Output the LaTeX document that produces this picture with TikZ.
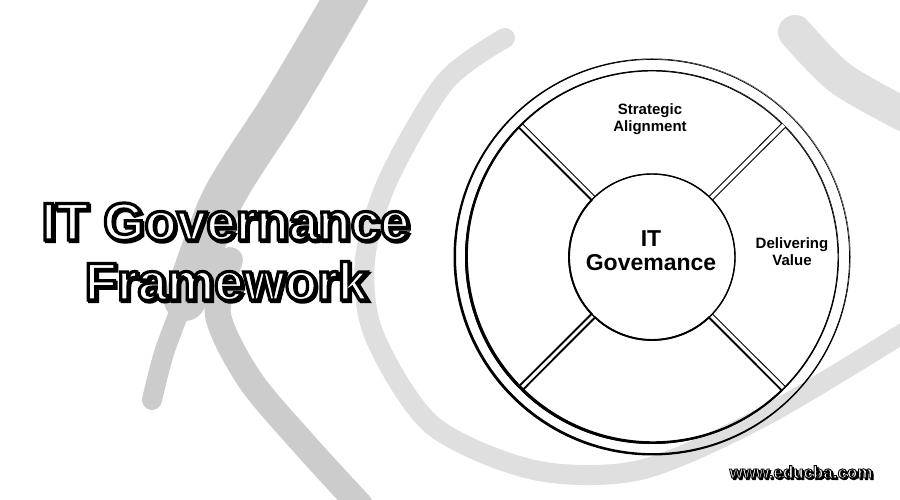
\documentclass[tikz,border=0pt]{standalone}
\usepackage{fontspec}
\setmainfont{Liberation Sans}

% white letters with a black outline and a small shadow
\newcommand{\strokedtext}[2]{\special{pdf:literal direct 2 Tr #1 w 0 G}#2\special{pdf:literal direct 0 Tr}}
\newcommand{\outlinetext}[5]{%
  \node[#3, text=black] at ([xshift=1.6, yshift=-1.6]#2) {\strokedtext{#4}{#5}};
  \node[#3, text=white] (#1) at (#2) {\strokedtext{#4}{#5}};
}

% one quarter of the ring, with a small gap to its neighbours
\newcommand{\ringpart}[3]{%
  \draw[#1] (#2+0.8:186pt) arc[start angle=#2+0.8, end angle=#3-0.8, radius=186pt]
    -- (#3-1.7:83pt) arc[start angle=#3-1.7, end angle=#2+1.7, radius=83pt] -- cycle;
}

\begin{document}
\begin{tikzpicture}[x=1pt, y=1pt,
    swoosh/.style={draw=gray!#1, line cap=round, line join=round},
    titlefont/.style={anchor=base, inner sep=0pt, font=\bfseries\fontsize{53}{60}\selectfont},
    webfont/.style={anchor=base, inner sep=0pt, font=\bfseries\fontsize{17}{20}\selectfont},
    seglabel/.style={font=\bfseries\fontsize{15}{17}\selectfont, align=center, inner sep=0pt},
    coretext/.style={font=\bfseries\fontsize{23}{24}\selectfont, align=center, inner sep=0pt},
    thinseg/.style={line width=0.9pt, line join=miter},
    thickseg/.style={line width=1.9pt, line join=miter}]
    \useasboundingbox (0,0) rectangle (900,500);

    % grey brush strokes in the background
    \draw[swoosh=40, line width=42pt] plot[smooth] coordinates {(350,510) (285,400) (222,300) (185,200)};
    \draw[swoosh=40, line width=20pt] plot[smooth] coordinates {(190,215) (165,150) (152,100)};
    \draw[swoosh=40, line width=26pt] plot[smooth] coordinates {(230,240) (218,185) (250,120) (305,55) (360,-5)};
    \draw[swoosh=25, line width=20pt] plot[smooth] coordinates {(505,462) (445,418) (388,320) (365,240) (374,165) (432,75) (534,30) (640,30) (763,83) (905,168)};
    \draw[swoosh=25, line width=34pt] plot[smooth] coordinates {(795,468) (840,422) (905,385)};

    % title
    \outlinetext{title1}{225.5,260}{titlefont}{3.2}{IT Governance}
    \outlinetext{title2}{226,200}{titlefont}{3.2}{Framework}

    % the wheel
    \begin{scope}[shift={(652,243)}]
        % outer double ring, heavier towards the lower left
        \fill[even odd rule] (0,0) circle (198.5pt) (40:1.3pt) circle (197pt);
        \draw[line width=0.7pt] (0,0) circle (197.5pt);
        \fill[even odd rule] (0,0) circle (187pt) (40:1.4pt) circle (185.2pt);

        % the four parts
        \ringpart{thinseg}{45}{135}
        \ringpart{thickseg}{135}{225}
        \ringpart{thickseg}{225}{315}
        \ringpart{thinseg}{-45}{45}

        % centre
        \draw[line width=1.4pt] (0,0) circle (83pt);
        \node[coretext] (core) at (-1,6) {IT\\Govemance};

        \node[seglabel] (align) at (-2,138) {Strategic\\Alignment};
        \node[seglabel] (value) at (140,5) {Delivering\\Value};
    \end{scope}

    % web address
    \outlinetext{web}{801,22}{webfont}{0.9}{www.educba.com}
\end{tikzpicture}
\end{document}
